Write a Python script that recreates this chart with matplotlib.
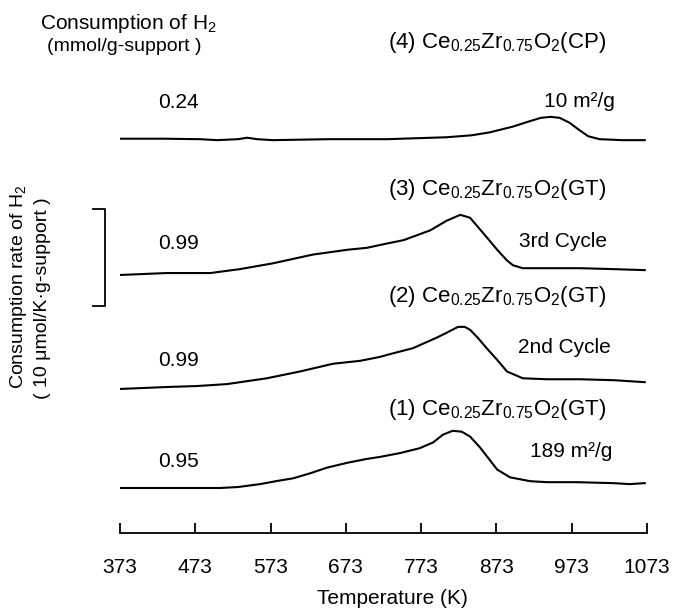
import matplotlib
matplotlib.use("Agg")
import matplotlib.pyplot as plt

plt.rcParams['font.family'] = ['Liberation Sans', 'DejaVu Sans']
plt.rcParams['mathtext.fontset'] = 'custom'
plt.rcParams['mathtext.rm'] = 'Liberation Sans'
plt.rcParams['mathtext.it'] = 'Liberation Sans:italic'
plt.rcParams['mathtext.default'] = 'regular'

# TPR traces: H2 consumption rate (umol/K g-support) above each trace's own baseline
temp_1 = [373, 450, 506, 530, 559, 580, 603, 625, 648, 675, 701, 718, 745, 771, 789,
          802, 815, 827, 838, 851, 862, 874, 891, 918, 940, 980, 1028, 1050, 1070]
rate_1 = [0, 0, 0, 0.1, 0.4, 0.7, 1.0, 1.5, 2.1, 2.6, 3.0, 3.2, 3.6, 4.1, 4.7,
          5.5, 5.9, 5.8, 5.3, 4.2, 3.1, 1.9, 1.1, 0.7, 0.6, 0.6, 0.5, 0.4, 0.5]

temp_2 = [373, 435, 475, 515, 568, 612, 656, 692, 718, 732, 762, 794, 807, 822, 831,
          838, 848, 860, 874, 887, 908, 940, 984, 1030, 1070]
rate_2 = [0, 0.2, 0.3, 0.5, 1.1, 1.8, 2.6, 2.9, 3.3, 3.6, 4.2, 5.3, 5.8, 6.4, 6.4,
          6.1, 5.3, 4.2, 3.0, 1.8, 1.1, 1.0, 1.0, 0.9, 0.7]

temp_3 = [373, 435, 493, 532, 576, 629, 675, 701, 725, 750, 785, 807, 825, 838, 849,
          860, 874, 887, 895, 908, 940, 984, 1030, 1070]
rate_3 = [0, 0.2, 0.2, 0.6, 1.2, 2.1, 2.6, 2.8, 3.2, 3.6, 4.6, 5.6, 6.2, 5.9, 4.9,
          3.9, 2.6, 1.5, 1.0, 0.7, 0.7, 0.7, 0.6, 0.5]

temp_4 = [373, 430, 479, 502, 530, 542, 555, 576, 650, 728, 807, 840, 864, 895, 915,
          932, 945, 957, 970, 982, 995, 1010, 1040, 1070]
rate_4 = [0.05, 0.05, 0, -0.1, 0, 0.15, 0, -0.1, 0, 0, 0.2, 0.4, 0.7, 1.3, 1.8,
          2.2, 2.3, 2.2, 1.7, 1.0, 0.3, 0, -0.1, -0.1]

# vertical stacking of the traces (umol/K g)
offsets = [4.64, 14.85, 26.6, 40.6]

h2_uptake = ["0.95", "0.99", "0.99", "0.24"]
sample_names = [r"(1) Ce$_{0.25}$Zr$_{0.75}$O$_2$(GT)",
                r"(2) Ce$_{0.25}$Zr$_{0.75}$O$_2$(GT)",
                r"(3) Ce$_{0.25}$Zr$_{0.75}$O$_2$(GT)",
                r"(4) Ce$_{0.25}$Zr$_{0.75}$O$_2$(CP)"]
side_notes = ["189 m²/g", "2nd Cycle", "3rd Cycle", "10 m²/g"]

x_ticks = [373, 473, 573, 673, 773, 873, 973, 1073]
scale_bar = 10.0  # umol/K g

W, H = 674, 610
fig = plt.figure(figsize=(W / 100, H / 100), dpi=100)
ax = fig.add_axes([120 / W, 1 - 533 / H, (647 - 120) / W, 533 / H])
ax.set_xlim(373, 1073)
ax.set_ylim(0, 533 / 9.7)

for t, r, off in zip([temp_1, temp_2, temp_3, temp_4],
                     [rate_1, rate_2, rate_3, rate_4], offsets):
    ax.plot(t, [v + off for v in r], color='black', lw=1.5, solid_joinstyle='round')

for s in ['top', 'left', 'right']:
    ax.spines[s].set_visible(False)
ax.spines['bottom'].set_linewidth(1.3)
ax.set_yticks([])
ax.set_xticks(x_ticks)
ax.set_xticklabels([str(v) for v in x_ticks], fontsize=15)
ax.tick_params(axis='x', direction='in', length=7, width=1.3, pad=18)

# scale bar
sb_x = 353
sb_bottom = 23.4
ax.plot([337, sb_x, sb_x, 337], [sb_bottom, sb_bottom, sb_bottom + scale_bar, sb_bottom + scale_bar],
        color='black', lw=1.3, clip_on=False)


def ftext(x, y, s, **kw):
    fig.text(x / W, 1 - y / H, s, **kw)


ftext(392, 598, "Temperature (K)", fontsize=15, ha='center', va='center')
ftext(19, 287, "Consumption rate of H$_2$", fontsize=14, rotation=90, ha='center', va='center')
ftext(43, 298, "( 10 μmol/K·g-support )", fontsize=14, rotation=90, ha='center', va='center')

ftext(40, 29, "Consumption of H$_2$", fontsize=15, ha='left', va='baseline')
ftext(47, 51, "(mmol/g-support )", fontsize=14, ha='left', va='baseline')

name_y = [415, 302, 195, 48]
uptake_y = [467, 366, 249, 108]
note_xy = [(571, 457), (564, 353), (563, 247), (579, 107)]
for i in range(4):
    ftext(388, name_y[i], sample_names[i], fontsize=16, ha='left', va='baseline')
    ftext(158, uptake_y[i], h2_uptake[i], fontsize=15, ha='left', va='baseline')
    ftext(note_xy[i][0], note_xy[i][1], side_notes[i], fontsize=15, ha='center', va='baseline')

fig.savefig("out.png", dpi=100)
